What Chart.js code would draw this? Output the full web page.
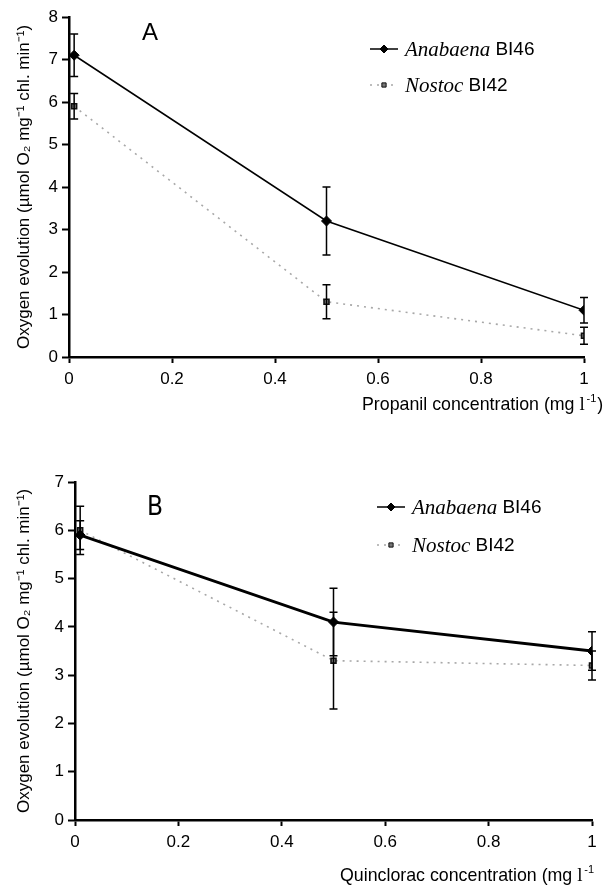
<!DOCTYPE html>
<html>
<head>
<meta charset="utf-8">
<script src="https://cdn.jsdelivr.net/npm/chart.js@4/dist/chart.umd.min.js"></script>
<style>
  html, body { margin: 0; padding: 0; background: #fff; }
  canvas { display: block; }
</style>
</head>
<body>
<canvas id="chart-a" width="607" height="440"></canvas>
<canvas id="chart-b" width="607" height="446"></canvas>
<script>
// ── Data ─────────────────────────────────────────────────────────────────────

const conc = [0.01, 0.5, 1];
const xTicks = [0, 0.2, 0.4, 0.6, 0.8, 1];

const species = ['Anabaena', 'Nostoc'];
const strains = ['BI46', 'BI42'];

// Panel A – propanil
const anabaenaPropanil    = [7.1, 3.2, 1.1];
const anabaenaPropanilErr = [0.5, 0.8, 0.3];
const nostocPropanil      = [5.9, 1.3, 0.5];
const nostocPropanilErr   = [0.3, 0.4, 0.2];

// Panel B – quinclorac
const anabaenaQuinclorac    = [5.9, 4.1, 3.5];
const anabaenaQuincloracErr = [0.3, 0.7, 0.4];
const nostocQuinclorac      = [6.0, 3.3, 3.2];
const nostocQuincloracErr   = [0.5, 1.0, 0.3];

const yTitle = 'Oxygen evolution (µmol O₂ mg⁻¹ chl. min⁻¹)';

// ── Helpers ──────────────────────────────────────────────────────────────────

const SANS = "'Liberation Sans', Arial, sans-serif";
const SERIF = "'Liberation Serif', 'Times New Roman', serif";

function pts(vals, errs) {
  return conc.map((x, i) => ({ x, y: vals[i], err: errs[i] }));
}

function anabaenaSet(vals, errs, width) {
  return {
    label: species[0] + ' ' + strains[0],
    data: pts(vals, errs),
    borderColor: '#000',
    backgroundColor: '#000',
    borderWidth: width,
    pointStyle: 'rectRot',
    pointRadius: 5,
    pointBorderWidth: 1,
    pointBorderColor: '#000',
    pointBackgroundColor: '#000',
  };
}

function nostocSet(vals, errs) {
  return {
    label: species[1] + ' ' + strains[1],
    data: pts(vals, errs),
    borderColor: '#a8a8a8',
    borderWidth: 1.6,
    borderDash: [2, 5],
    pointStyle: 'rect',
    pointRadius: 3.5,
    pointBorderWidth: 1.6,
    pointBorderColor: '#111',
    pointBackgroundColor: '#777',
  };
}

const errorBars = {
  id: 'errorBars',
  afterDatasetsDraw(chart) {
    const { ctx, scales: { x, y } } = chart;
    ctx.save();
    ctx.strokeStyle = '#000';
    ctx.lineWidth = 1.5;
    chart.data.datasets.forEach(ds => {
      ds.data.forEach(p => {
        const px = x.getPixelForValue(p.x);
        const top = y.getPixelForValue(p.y + p.err);
        const bot = y.getPixelForValue(p.y - p.err);
        ctx.beginPath();
        ctx.moveTo(px, top); ctx.lineTo(px, bot);
        ctx.moveTo(px - 4, top); ctx.lineTo(px + 4, top);
        ctx.moveTo(px - 4, bot); ctx.lineTo(px + 4, bot);
        ctx.stroke();
      });
    });
    ctx.restore();
  },
};

// legend with italic species + upright strain, panel letter, x title
const decorations = {
  id: 'decorations',
  afterDraw(chart, args, opts) {
    const { ctx } = chart;
    ctx.save();

    // panel letter
    ctx.fillStyle = '#000';
    ctx.font = opts.letterFont;
    ctx.textBaseline = 'alphabetic';
    ctx.textAlign = 'left';
    ctx.fillText(opts.letter, opts.letterX, opts.letterY);

    // legend
    chart.data.datasets.forEach((ds, i) => {
      const ly = opts.legendY + i * opts.legendGap;
      const lx = opts.legendX;
      ctx.save();
      ctx.strokeStyle = ds.borderColor;
      ctx.lineWidth = i === 0 ? 1.5 : 1.6;
      ctx.setLineDash(ds.borderDash || []);
      ctx.beginPath();
      ctx.moveTo(lx, ly); ctx.lineTo(lx + 28, ly);
      ctx.stroke();
      ctx.restore();
      ctx.fillStyle = ds.pointBackgroundColor;
      ctx.strokeStyle = ds.pointBorderColor;
      Chart.helpers.drawPoint(ctx, {
        pointStyle: ds.pointStyle,
        radius: i === 0 ? 4 : 3,
        borderWidth: ds.pointBorderWidth,
        rotation: 0,
      }, lx + 14, ly);

      ctx.fillStyle = '#000';
      ctx.textBaseline = 'middle';
      ctx.font = 'italic 21px ' + SERIF;
      ctx.fillText(species[i], lx + 35, ly + 1);
      const w = ctx.measureText(species[i] + ' ').width;
      ctx.font = '19px ' + SANS;
      ctx.fillText(strains[i], lx + 35 + w, ly + 1);
    });

    // x axis title
    ctx.font = '17.8px ' + SANS;
    ctx.textBaseline = 'alphabetic';
    ctx.fillText(opts.xTitle, opts.xTitleX, opts.xTitleY);
    const tw = ctx.measureText(opts.xTitle).width;
    ctx.font = '19px ' + SERIF;
    ctx.fillText('l', opts.xTitleX + tw + 5, opts.xTitleY);
    const lw = ctx.measureText('l ').width;
    ctx.font = '11px ' + SANS;
    ctx.fillText('-1', opts.xTitleX + tw + 5 + lw - 3, opts.xTitleY - 8);
    const mw = ctx.measureText('-1').width;
    if (opts.closeParen) {
      ctx.font = '17.8px ' + SANS;
      ctx.fillText(')', opts.xTitleX + tw + 5 + lw - 2 + mw, opts.xTitleY);
    }
    ctx.restore();
  },
};

function makeChart(id, datasets, yMax, box, deco) {
  return new Chart(document.getElementById(id), {
    type: 'line',
    data: { datasets },
    plugins: [errorBars, decorations],
    options: {
      responsive: false,
      animation: false,
      devicePixelRatio: 1,
      layout: { padding: { top: box.top, right: box.right, left: 0, bottom: 0 } },
      plugins: {
        legend: { display: false },
        tooltip: { enabled: false },
        decorations: deco,
      },
      scales: {
        x: {
          type: 'linear',
          min: 0, max: 1,
          afterBuildTicks: s => { s.ticks = xTicks.map(v => ({ value: v })); },
          afterFit: s => { s.height = box.xHeight; },
          border: { display: true, color: '#000', width: 2.5 },
          grid: { drawOnChartArea: false, tickLength: 6, tickColor: '#000', tickWidth: 2 },
          ticks: { color: '#000', font: { family: SANS, size: 17 }, padding: 6, callback: v => String(v) },
        },
        y: {
          min: 0, max: yMax,
          ticks: { stepSize: 1, color: '#000', font: { family: SANS, size: 17 }, padding: 4 },
          afterFit: s => { s.width = box.left; },
          border: { display: true, color: '#000', width: 2.5 },
          grid: { drawOnChartArea: false, tickLength: 7, tickColor: '#000', tickWidth: 2 },
          title: {
            display: true, text: yTitle, color: '#000',
            font: { family: SANS, size: 17 }, padding: { top: box.titlePad, bottom: 0 },
          },
        },
      },
    },
  });
}

// ── Panels ───────────────────────────────────────────────────────────────────

makeChart('chart-a', [
  anabaenaSet(anabaenaPropanil, anabaenaPropanilErr, 1.5),
  nostocSet(nostocPropanil, nostocPropanilErr),
], 8, { top: 17, right: 23, left: 69, xHeight: 83, titlePad: 14 }, {
  letter: 'A', letterX: 142, letterY: 40, letterFont: '24px ' + SANS,
  legendX: 370, legendY: 49, legendGap: 36,
  xTitle: 'Propanil concentration (mg', xTitleX: 362, xTitleY: 410, closeParen: true,
});

makeChart('chart-b', [
  anabaenaSet(anabaenaQuinclorac, anabaenaQuincloracErr, 2.8),
  nostocSet(nostocQuinclorac, nostocQuincloracErr),
], 7, { top: 42, right: 15, left: 75, xHeight: 66, titlePad: 14 }, {
  letter: 'B', letterX: 147, letterY: 75,
  letterFont: "26px 'Liberation Sans Narrow', 'DejaVu Sans Condensed', sans-serif",
  legendX: 377, legendY: 67, legendGap: 38,
  xTitle: 'Quinclorac concentration (mg', xTitleX: 340, xTitleY: 441, closeParen: false,
});
</script>
</body>
</html>
